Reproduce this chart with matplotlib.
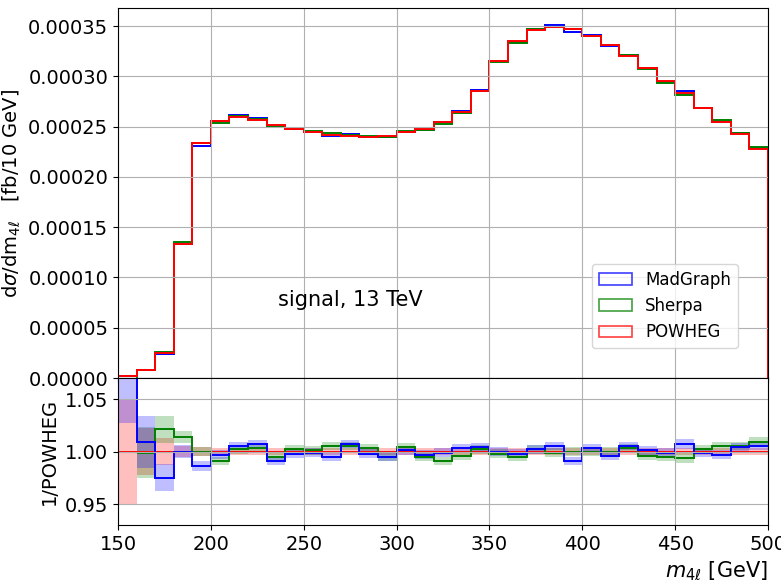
import numpy as np
import matplotlib
matplotlib.use('Agg')
import matplotlib.pyplot as plt
from matplotlib.patches import Patch
from matplotlib.ticker import FormatStrFormatter

# bin edges in m4l [GeV]
edges = np.arange(150, 510, 10)

# POWHEG distribution [fb/10 GeV]
powheg = np.array([2.0e-6, 8.3e-6, 2.5e-5, 1.333e-4, 2.34e-4, 2.56e-4, 2.60e-4, 2.565e-4, 2.515e-4, 2.48e-4,
                   2.45e-4, 2.42e-4, 2.41e-4, 2.40e-4, 2.41e-4, 2.445e-4, 2.475e-4, 2.55e-4, 2.65e-4, 2.85e-4,
                   3.15e-4, 3.35e-4, 3.46e-4, 3.49e-4, 3.47e-4, 3.405e-4, 3.315e-4, 3.20e-4, 3.085e-4, 2.95e-4,
                   2.83e-4, 2.685e-4, 2.55e-4, 2.425e-4, 2.28e-4])

# ratios to POWHEG
ratio_madgraph = np.array([1.10, 1.009, 0.975, 1.000, 0.986, 0.997, 1.005, 1.007, 0.991, 0.998,
                           0.999, 0.995, 1.007, 0.998, 0.995, 1.001, 0.997, 0.999, 1.003, 1.004,
                           1.000, 0.998, 1.002, 1.005, 0.991, 1.003, 0.996, 1.005, 1.001, 0.999,
                           1.007, 0.999, 0.997, 1.004, 1.005])
ratio_sherpa = np.array([np.nan, 0.999, 1.021, 1.014, 1.000, 0.991, 1.002, 1.003, 0.995, 1.002,
                         1.001, 1.005, 1.005, 1.003, 0.995, 1.004, 0.995, 0.991, 0.996, 1.002,
                         0.998, 0.995, 1.002, 0.999, 1.000, 1.000, 1.000, 1.003, 0.996, 0.995,
                         0.994, 1.002, 1.005, 1.005, 1.009])

# relative uncertainties
err_madgraph = np.array([0.073, 0.025, 0.013, 0.006, 0.005, 0.004, 0.004, 0.004, 0.004, 0.004,
                         0.004, 0.004, 0.004, 0.004, 0.004, 0.004, 0.004, 0.004, 0.004, 0.004,
                         0.004, 0.004, 0.004, 0.004, 0.004, 0.004, 0.004, 0.004, 0.004, 0.004,
                         0.005, 0.004, 0.004, 0.004, 0.004])
err_sherpa = np.array([np.nan, 0.024, 0.013, 0.006, 0.004, 0.004, 0.004, 0.004, 0.004, 0.004,
                       0.004, 0.004, 0.004, 0.004, 0.004, 0.004, 0.004, 0.004, 0.004, 0.004,
                       0.004, 0.004, 0.004, 0.004, 0.004, 0.004, 0.004, 0.004, 0.004, 0.004,
                       0.005, 0.004, 0.004, 0.004, 0.005])
err_powheg = np.array([0.050, 0.022, 0.013, 0.005, 0.004, 0.003, 0.003, 0.003, 0.003, 0.003,
                       0.003, 0.003, 0.003, 0.003, 0.003, 0.003, 0.003, 0.003, 0.003, 0.003,
                       0.003, 0.003, 0.003, 0.003, 0.003, 0.003, 0.003, 0.003, 0.003, 0.003,
                       0.003, 0.003, 0.003, 0.003, 0.003])

madgraph = powheg * ratio_madgraph
sherpa = powheg * ratio_sherpa


def valid(vals):
    # first bin with a finite value (Sherpa has no entry in the first bin)
    return int(np.argmax(np.isfinite(vals)))


plt.rcParams['font.size'] = 14

fig = plt.figure(figsize=(7.81, 5.82), dpi=100)
ax1 = fig.add_axes([0.1511, 0.3505, 0.8323, 0.6357])
ax2 = fig.add_axes([0.1511, 0.0979, 0.8323, 0.2526], sharex=ax1)

colors = {'MadGraph': 'blue', 'Sherpa': 'green', 'POWHEG': 'red'}

# upper panel
for vals, name in [(madgraph, 'MadGraph'), (sherpa, 'Sherpa'), (powheg, 'POWHEG')]:
    i = valid(vals)
    ax1.stairs(vals[i:], edges[i:], color=colors[name], lw=1.4)
ax1.set_xlim(150, 500)
ax1.set_ylim(0, 0.000368)
ax1.set_yticks(np.arange(0, 0.00036, 0.00005))
ax1.yaxis.set_major_formatter(FormatStrFormatter('%.5f'))
ax1.tick_params(labelbottom=False)
ax1.grid(True)
ax1.set_ylabel(r'd$\sigma$/dm$_{4\ell}$   [fb/10 GeV]', fontsize=14)
ax1.text(236, 0.0000775, 'signal, 13 TeV', fontsize=15, va='center')
handles = [Patch(facecolor='none', edgecolor=c, alpha=0.75, lw=1.2, label=n) for n, c in colors.items()]
ax1.legend(handles=handles, loc=(0.729, 0.081), fontsize=12)

# ratio panel
ones = np.ones_like(powheg)
for r, e, c in [(ones, err_powheg, 'red'),
                (ratio_sherpa, err_sherpa, 'green'),
                (ratio_madgraph, err_madgraph, 'blue')]:
    i = valid(r)
    ax2.stairs(r[i:] + e[i:], edges[i:], baseline=r[i:] - e[i:], fill=True, color=c, alpha=0.25, lw=0)
for r, c in [(ones, 'red'), (ratio_sherpa, 'green'), (ratio_madgraph, 'blue')]:
    i = valid(r)
    ax2.stairs(r[i:], edges[i:], baseline=None, color=c, lw=1.4)
ax2.set_ylim(0.93, 1.07)
ax2.set_yticks([0.95, 1.00, 1.05])
ax2.yaxis.set_major_formatter(FormatStrFormatter('%.2f'))
ax2.set_xticks(np.arange(150, 510, 50))
ax2.grid(True)
ax2.set_ylabel('1/POWHEG', fontsize=14)
ax2.set_xlabel(r'$m_{4\ell}$ [GeV]', loc='right', fontsize=15)

fig.align_ylabels([ax1, ax2])
fig.savefig('out.png', dpi=100)
